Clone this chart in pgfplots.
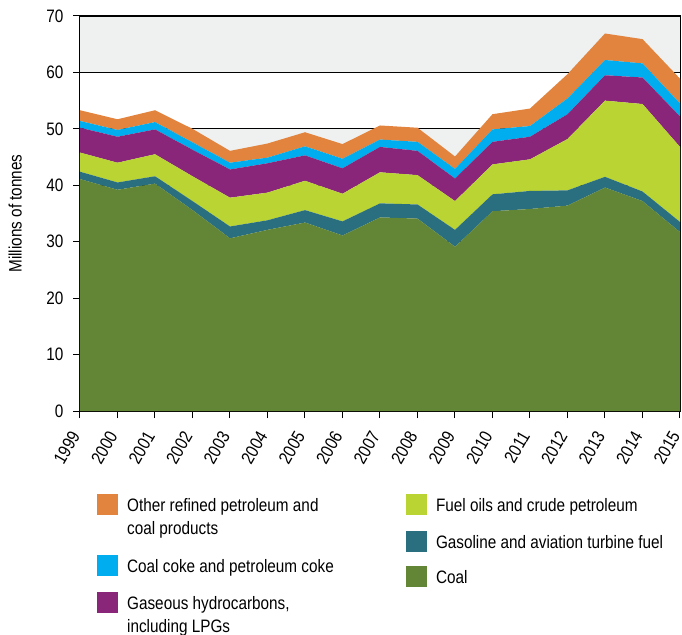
\documentclass[border=0pt]{standalone}
\usepackage{fontspec}
\setmainfont{Liberation Sans}[FakeStretch=0.85]
\usepackage{pgfplots}
\usepackage{pgfplotstable}
\pgfplotsset{compat=1.18}
\definecolor{cOther}{HTML}{E2843D}
\definecolor{cCoke}{HTML}{00AEEF}
\definecolor{cHydro}{HTML}{8A267A}
\definecolor{cFuel}{HTML}{B9D433}
\definecolor{cGas}{HTML}{296F7F}
\definecolor{cCoal}{HTML}{638536}
\definecolor{cBand}{HTML}{EFF0F0}
\newcommand{\myfont}{\fontsize{18}{23}\selectfont}
\pgfplotstableread{
year coal gas fuel hydro coke other
1999 41.1 1.3 3.4 4.4 1.2 1.9
2000 39.2 1.3 3.5 4.6 1.2 1.9
2001 40.3 1.3 3.9 4.4 1.3 2.1
2002 35.6 1.6 4.4 4.7 1.3 2.4
2003 30.6 2.1 5.1 5.0 1.2 2.1
2004 32.1 1.7 4.9 5.2 1.0 2.5
2005 33.4 2.2 5.2 4.5 1.6 2.5
2006 31.1 2.5 4.9 4.5 1.7 2.6
2007 34.3 2.5 5.5 4.5 1.3 2.5
2008 34.1 2.5 5.2 4.3 1.6 2.5
2009 29.1 3.0 5.1 4.0 1.7 2.2
2010 35.4 3.0 5.3 4.0 2.2 2.7
2011 35.8 3.2 5.6 4.0 1.9 3.1
2012 36.4 2.7 9.1 4.4 2.8 4.3
2013 39.6 1.9 13.5 4.5 2.7 4.7
2014 37.2 1.7 15.5 4.7 2.5 4.3
2015 31.7 1.8 13.3 5.4 2.3 4.4
}\datatable
\pgfplotsset{
  mylegend/.style={
    legend style={draw=none, fill=none, inner sep=0pt, row sep=0pt,
      column sep=0pt, font=\myfont, cells={anchor=base west},
      nodes={inner sep=0pt}},
    legend image code/.code={\fill[##1] (0pt,-4pt) rectangle (21pt,17pt); \path (30pt,0pt);},
  },
  frame/.style={at={(0,0)}, anchor=south west,
    width=600pt, height=395pt, scale only axis,
    xmin=1999, xmax=2015, ymin=0, ymax=70},
}
\begin{document}
\begin{tikzpicture}
\begin{axis}[frame, hide axis]
\addplot[fill=cBand, draw=none] coordinates {(1999,40.1) (2015,40.1) (2015,49.9) (1999,49.9)};
\addplot[fill=cBand, draw=none] coordinates {(1999,60.1) (2015,60.1) (2015,69.9) (1999,69.9)};
\end{axis}
\begin{axis}[
  frame,
  xtick={1999,...,2015}, ytick={0,10,...,70},
  xtick pos=left, ytick pos=left,
  tick align=outside, major tick length=7pt,
  tick style={black, line width=1pt},
  axis line style={black, line width=1pt},
  ymajorgrids, grid style={black, line width=0.9pt},
  /pgf/number format/assume math mode=true,
  /pgf/number format/1000 sep={},
  tick label style={font=\myfont},
  xticklabel style={yshift=-12pt, xshift=-3pt, rotate=60, anchor=east},
  yticklabel style={xshift=-6pt},
  ylabel={Millions of tonnes},
  ylabel style={font=\myfont, at={(axis description cs:-0.108,0.5)}, anchor=center},
  stack plots=y,
  mylegend,
  legend style={at={(axis description cs:0.0283,-0.2101)}, anchor=north west},
]
\addplot[fill=cCoal, draw=none, forget plot] table[x=year, y=coal]{\datatable} \closedcycle;
\addplot[fill=cGas, draw=none, forget plot] table[x=year, y=gas]{\datatable} \closedcycle;
\addplot[fill=cFuel, draw=none, forget plot] table[x=year, y=fuel]{\datatable} \closedcycle;
\addplot[fill=cHydro, draw=none, forget plot] table[x=year, y=hydro]{\datatable} \closedcycle;
\addplot[fill=cCoke, draw=none, forget plot] table[x=year, y=coke]{\datatable} \closedcycle;
\addplot[fill=cOther, draw=none, forget plot] table[x=year, y=other]{\datatable} \closedcycle;
\addlegendimage{fill=cOther, draw=none}
\addlegendentry[text height=17pt, text depth=44pt]{\vtop{\hbox{Other refined petroleum and}\hbox{coal products}}}
\addlegendimage{fill=cCoke, draw=none}
\addlegendentry[text height=17pt, text depth=20pt]{Coal coke and petroleum coke}
\addlegendimage{fill=cHydro, draw=none}
\addlegendentry[text height=17pt, text depth=28pt]{\vtop{\hbox{Gaseous hydrocarbons,}\hbox{including LPGs}}}
\end{axis}
\begin{axis}[
  frame, hide axis,
  mylegend,
  legend style={at={(axis description cs:0.543,-0.2101)}, anchor=north west},
]
\addplot[draw=none, forget plot] coordinates {(1999,0) (2015,70)};
\addlegendimage{fill=cFuel, draw=none}
\addlegendentry[text height=17pt, text depth=20pt]{Fuel oils and crude petroleum}
\addlegendimage{fill=cGas, draw=none}
\addlegendentry[text height=17pt, text depth=18pt]{Gasoline and aviation turbine fuel}
\addlegendimage{fill=cCoal, draw=none}
\addlegendentry[text height=17pt, text depth=5pt]{Coal}
\end{axis}
\pgfresetboundingbox
\useasboundingbox (-80pt,-223pt) rectangle (602pt,411pt);
\end{tikzpicture}
\end{document}
